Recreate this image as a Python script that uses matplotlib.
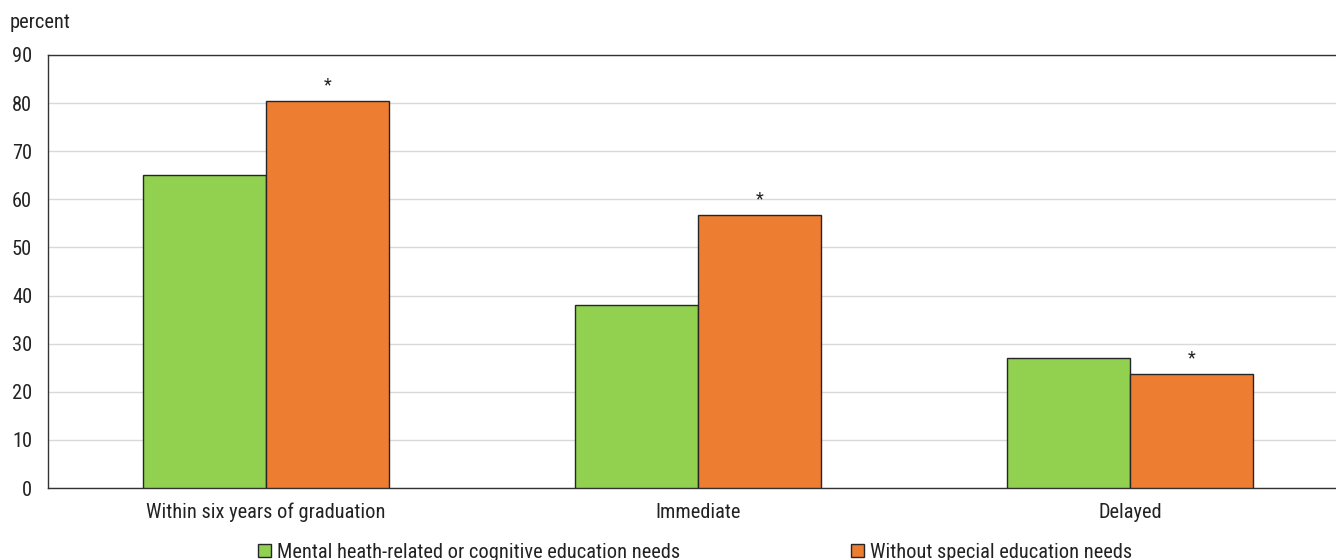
import matplotlib
matplotlib.use("Agg")
import matplotlib.pyplot as plt
from matplotlib import font_manager
from matplotlib.patches import Patch
import numpy as np

# Prefer a condensed sans face when one is installed
installed = {f.name for f in font_manager.fontManager.ttflist}
preferred = ['Roboto Condensed', 'Liberation Sans Narrow', 'Liberation Sans']
chosen = [f for f in preferred if f in installed]
plt.rcParams['font.family'] = chosen[:1] + ['DejaVu Sans']

categories = ["Within six years of graduation", "Immediate", "Delayed"]
series_names = ["Mental heath-related or cognitive education needs",
                "Without special education needs"]
mental_health = [65.0, 38.1, 27.0]
no_special_needs = [80.4, 56.7, 23.6]
significant = [True, True, True]
yticks = [0, 10, 20, 30, 40, 50, 60, 70, 80, 90]

green = "#92D050"
orange = "#ED7D31"
edge = "#262626"
text_color = "#222222"
fs = 14.7

fig = plt.figure(figsize=(13.36, 5.6), dpi=100)
ax = fig.add_axes([48 / 1336, 1 - 488 / 560, 1 - 48 / 1336, (488 - 55) / 560])

x = np.arange(len(categories))
w = 0.285
ax.bar(x - w / 2, mental_health, w, color=green, edgecolor=edge, linewidth=1.0, zorder=3)
ax.bar(x + w / 2, no_special_needs, w, color=orange, edgecolor=edge, linewidth=1.0, zorder=3)

for xi, v, s in zip(x, no_special_needs, significant):
    if s:
        ax.annotate("*", (xi + w / 2, v), xytext=(0, 5), textcoords="offset points",
                    ha="center", va="bottom", fontsize=13, color=text_color)

ax.set_xlim(-0.505, 2.477)
ax.set_ylim(0, 90)
ax.set_yticks(yticks)
ax.set_xticks(x)
ax.set_xticklabels(categories, fontsize=fs, color=text_color)
ax.tick_params(axis="y", length=0, pad=11.5, labelsize=fs, labelcolor=text_color)
ax.tick_params(axis="x", length=0, pad=10.5)

ax.yaxis.grid(True, color="#d9d9d9", linewidth=1.0, zorder=0)
ax.set_axisbelow(True)
for side in ["left", "top", "bottom"]:
    ax.spines[side].set_color("#333333")
    ax.spines[side].set_linewidth(1.0)
ax.spines["right"].set_visible(False)

fig.text(10 / 1336, 1 - 22 / 560, "percent", fontsize=fs, color=text_color,
         ha="left", va="center")

handles = [Patch(facecolor=green, edgecolor=edge, linewidth=1.0),
           Patch(facecolor=orange, edgecolor=edge, linewidth=1.0)]
fig.legend(handles, series_names, loc="center", bbox_to_anchor=(695 / 1336, 1 - 552 / 560),
           ncol=2, frameon=False, fontsize=fs, handlelength=0.6, handleheight=0.6,
           handletextpad=0.3, columnspacing=8.4, labelcolor=text_color,
           borderpad=0, borderaxespad=0)

fig.savefig("out.png", dpi=100)
